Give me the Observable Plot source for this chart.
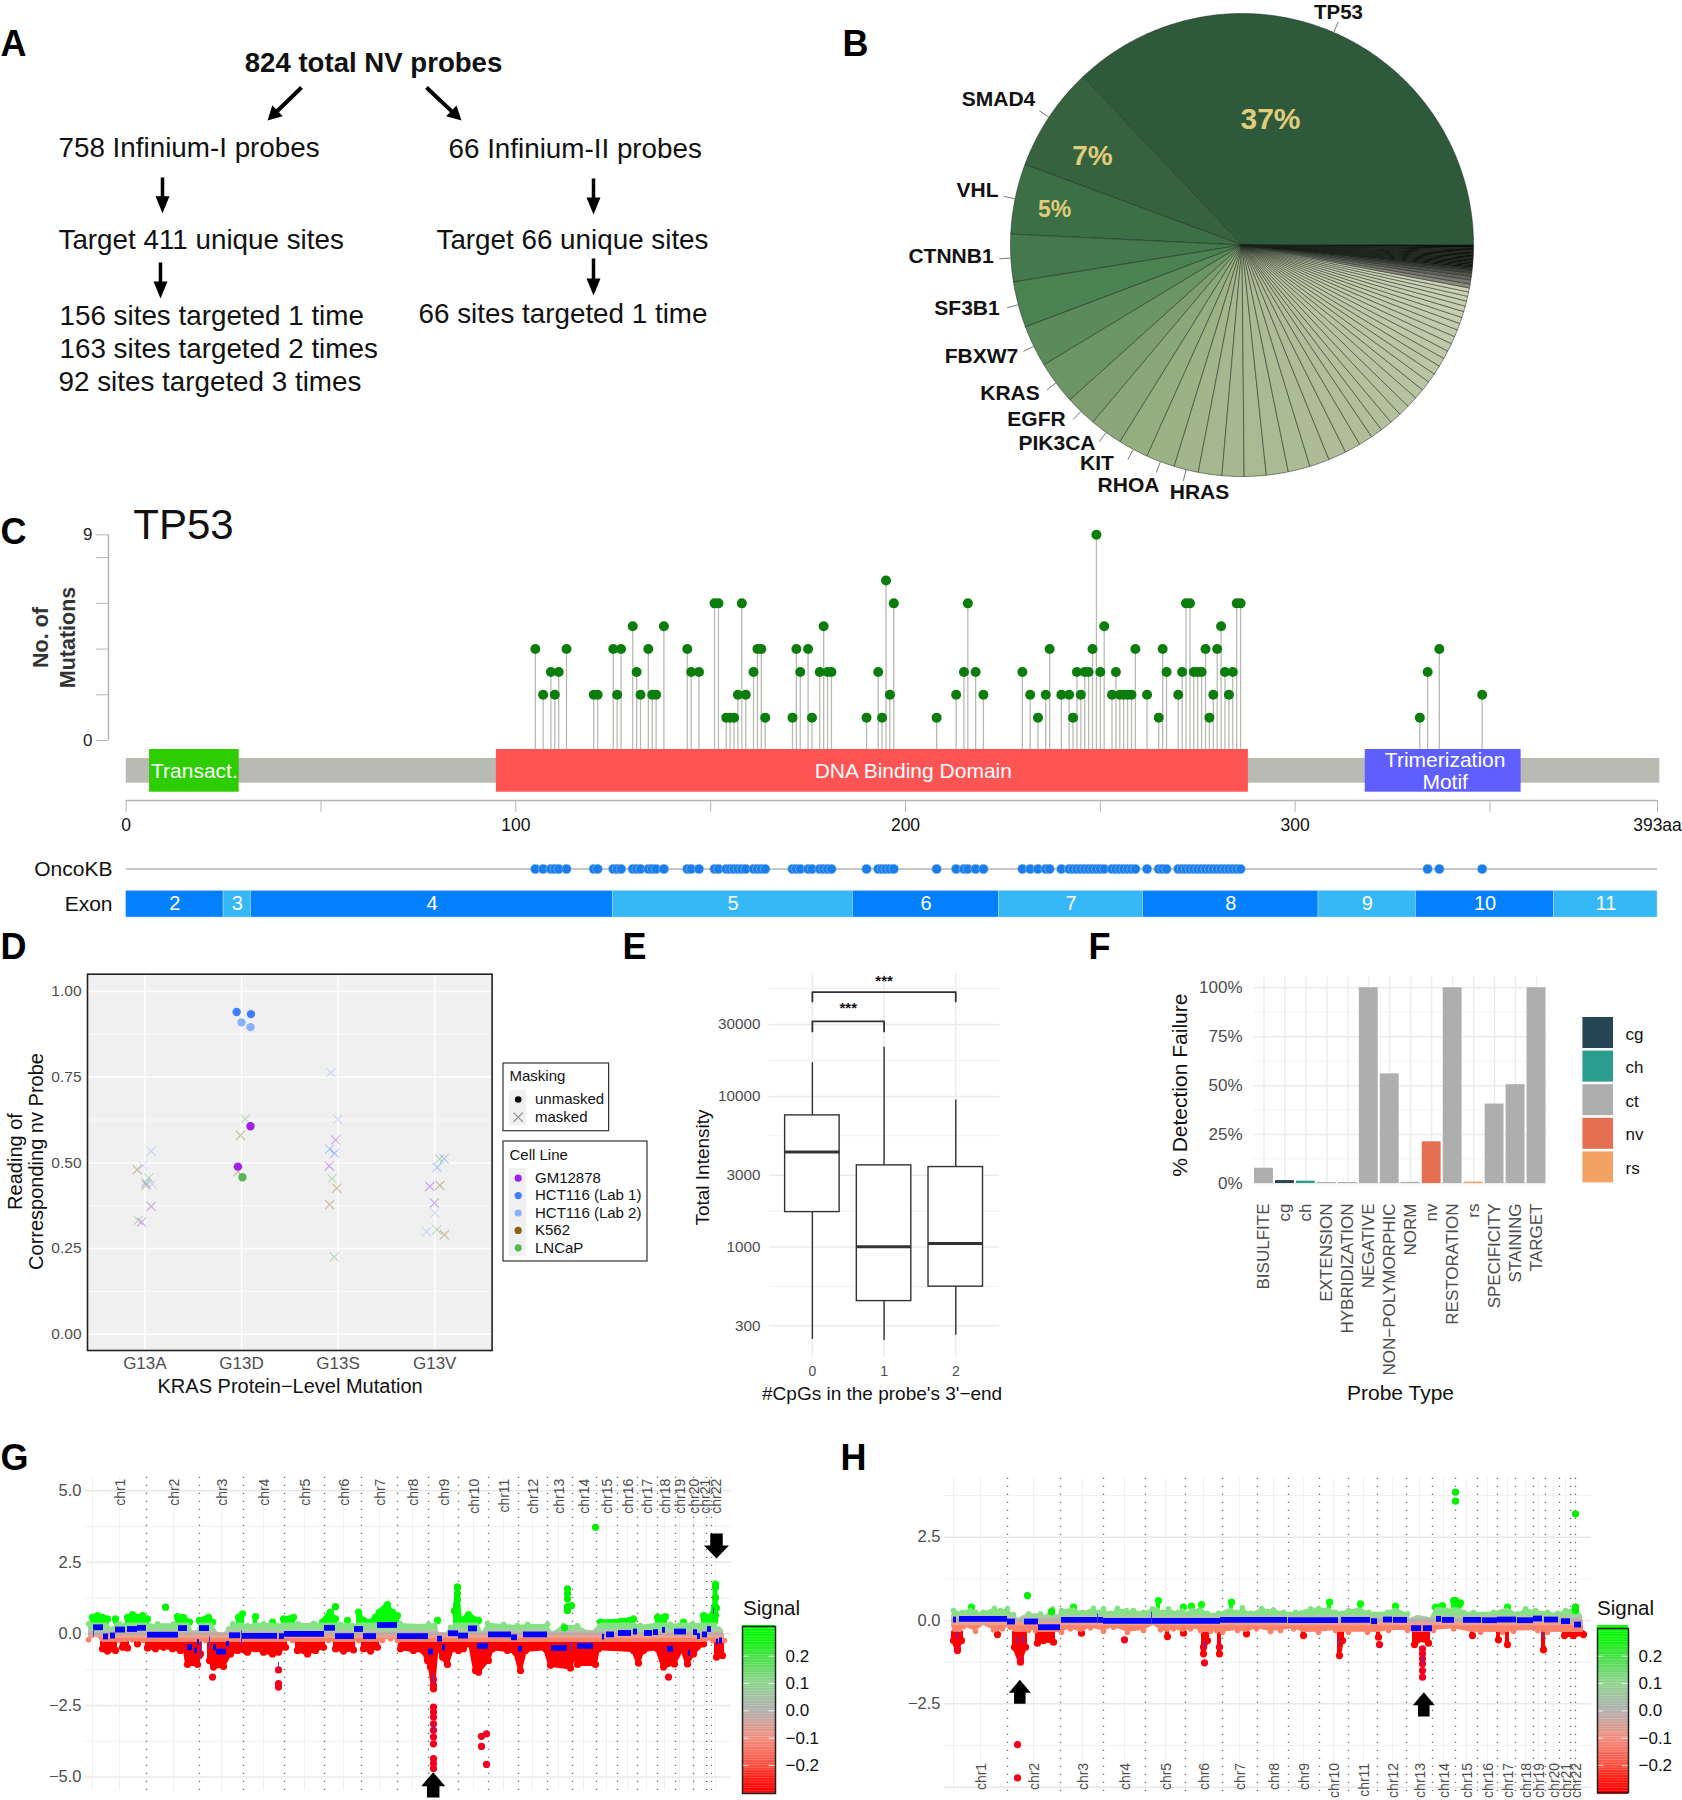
<!DOCTYPE html>
<html><head><meta charset="utf-8">
<script src="https://cdn.jsdelivr.net/npm/d3@7"></script>
<script src="https://cdn.jsdelivr.net/npm/@observablehq/plot@0.6"></script>
<style>
html,body{margin:0;padding:0;background:#fff}
#root{position:relative;width:1682px;height:1800px;overflow:hidden;font-family:"Liberation Sans",Arial,sans-serif}
svg{overflow:visible}
</style></head><body><div id="root"></div>
<script>
// ---------- Panel B data
const pieGenes=["TP53","SMAD4","VHL","CTNNB1","SF3B1","FBXW7","KRAS","EGFR","PIK3CA","KIT","RHOA","HRAS"];
const pieShares=[37,7.3,4.9,3.3,3.2,2.9,3,2.2,2.3,2.1,2,1.7];
const pieOtherShares=[1.64,1.53,1.53,1.53,1.53,1.39,1.25,1.11,.97,.83,.83,.83,.78,.78,.72,.69,.67,.64,.61,.58,.56,.53,.5,.47,.44,.42,.39,.36,.33,.31,.28];
const pieGreyShares=[.28,.28,.25,.22,.2,.17];
const pieBlackShares=[.1,.1,.1,.1,.1,.1,.1,.1,.1,.1,.1,.1,.1,.1,.17];
const pieColors=["#2e5a3b","#36623f","#3d6f46","#45784c","#4b8252","#5b8b5a","#6c9566","#7e9e6f","#8aa779","#94ae80","#9cb285","#a3b58b"];
// ---------- Panel C data: residue positions by number of mutations
const mut1=[154,155,156,164,171,176,190,194,208,234,243,265,278,332];
const mut2=[107,110,120,121,126,132,135,136,157,159,196,213,220,232,236,240,242,245,253,255,256,257,258,262,270,279,283,348];
const mut3=[109,111,131,145,147,161,173,178,180,181,193,215,218,230,244,246,247,250,254,267,271,274,275,276,282,284,334];
const mut4=[105,113,125,127,134,144,162,163,172,175,237,248,259,266,277,280,337];
const mut5=[130,138,179,251,281];
const mut6=[151,152,158,197,216,272,273,285,286];
const mut7=[195];
const mut9=[249];
const proteinDomains=[{name:"Transact.",a:6,b:29,at:17.5,c:"#2dcd00"},{name:"DNA Binding Domain",a:95,b:288,at:202,c:"#ff5454"},{name:"Trimerization\nMotif",a:318,b:358,at:338.5,c:"#5f5fff"}];
const exonNames=["2","3","4","5","6","7","8","9","10","11"];
const exonEnds=[25,32,125,186.5,224,261,306,331,366.5,393];
// ---------- Panel D data
const kras=["G13A","G13D","G13S","G13V"];
const cellLines=["GM12878","HCT116 (Lab 1)","HCT116 (Lab 2)","K562","LNCaP"];
const cellColors=["#a020f0","#3f7fff","#8ab0ff","#8b6010","#58b858"];
const maskedReadings=[
[-.08,.48,"K562"],[-.02,.492,"HCT116 (Lab 2)"],[.04,.456,"LNCaP"],[.01,.442,"HCT116 (Lab 1)"],[.013,.435,"K562"],[.074,.438,"HCT116 (Lab 2)"],[.065,.534,"HCT116 (Lab 2)"],[.065,.373,"GM12878"],[-.07,.332,"LNCaP"],[-.035,.327,"GM12878"],
[1.04,.628,"LNCaP"],[.989,.58,"K562"],[.963,.474,"K562"],
[1.925,.763,"HCT116 (Lab 2)"],[1.995,.627,"HCT116 (Lab 2)"],[1.973,.567,"GM12878"],[1.912,.54,"HCT116 (Lab 1)"],[1.964,.528,"HCT116 (Lab 1)"],[1.908,.491,"GM12878"],[1.938,.454,"LNCaP"],[1.986,.426,"K562"],[1.912,.378,"K562"],[1.96,.225,"LNCaP"],
[3.05,.511,"LNCaP"],[3.097,.512,"HCT116 (Lab 1)"],[3.027,.487,"HCT116 (Lab 1)"],[2.949,.431,"GM12878"],[3.053,.434,"K562"],[2.997,.383,"GM12878"],[3,.353,"HCT116 (Lab 2)"],[3.023,.305,"LNCaP"],[2.914,.299,"HCT116 (Lab 2)"],[3.1,.29,"K562"]];
const unmaskedReadings=[[.95,.94,"HCT116 (Lab 1)"],[1.098,.934,"HCT116 (Lab 1)"],[1,.91,"HCT116 (Lab 2)"],[1.093,.896,"HCT116 (Lab 2)"],[1.093,.607,"GM12878"],[.963,.489,"GM12878"],[1.01,.458,"LNCaP"]];
// ---------- Panel E data
const cpgBoxes=[{i:0,lo:244,q1:1707,med:4270,q3:7480,hi:16750},{i:1,lo:240,q1:438,med:1005,q3:3485,hi:21200},{i:2,lo:260,q1:546,med:1058,q3:3397,hi:9450}];
const intensityMajor=[300,1000,3000,10000,30000];
const intensityMinor=[547,1732,5477,17320,52000];
// ---------- Panel F data
const probeTypes=["BISULFITE","cg","ch","EXTENSION","HYBRIDIZATION","NEGATIVE","NON−POLYMORPHIC","NORM","nv","RESTORATION","rs","SPECIFICITY","STAINING","TARGET"];
const failurePct=[7.8,1.5,1.2,.5,.5,100,56,.6,21.3,100,.7,40.6,50.5,100];
const failureClass=["ct","cg","ch","ct","ct","ct","ct","ct","nv","ct","rs","ct","ct","ct"];
const classNames=["cg","ch","ct","nv","rs"];
const classColors=["#264653","#2a9d8f","#aeaeae","#e76f51","#f4a261"];
// ---------- Panels G, H data (genome bins, log2 ratio)
const chroms=d3.range(1,23).map(i=>"chr"+i);
const gBounds=[54,107,151,192,232,269,305,336,366,396,426,455,480,504,525,545,565,583,601,614,619];
const gMids=[27,81,129,171,212,251,287,320,351,381,411,440,466,491,514,535,554,572,587,601,612,623];
const gUp=[[-4,.35],[0,.58],[5,.64],[10,.58],[15,.52],[20,.17],[23,.52],[27,.35],[32,.29],[35,.58],[40,.67],[45,.58],[50,.64],[55,.52],[57,.29],[65,.35],[81,.35],[85,.6],[91,.58],[97,.41],[100,.12],[105,.12],[107,.47],[116,.58],[120,.41],[125,.06],[131,.02],[136,.17],[140,.35],[146,.58],[150,.7],[155,.29],[163,.6],[171,.35],[180,.41],[185,.29],[191,.52],[201,.58],[206,.35],[221,.37],[230,.41],[238,.76],[243,.52],[248,.33],[255,.47],[260,.29],[266,.76],[271,.47],[278,.41],[283,.58],[287,.76],[295,1.02],[300,.76],[305,.64],[308,.35],[336,.33],[345,.47],[346,.06],[353,.02],[358,.23],[363,.81],[365,1.63],[368,.41],[376,.67],[386,.47],[390,.06],[395,.37],[411,.33],[425,.29],[435,.33],[455,.33],[460,.06],[471,.29],[485,.29],[495,.12],[501,.12],[508,.41],[528,.44],[541,.52],[548,.29],[565,.58],[573,.6],[578,.33],[591,.41],[600,.35],[611,.64],[618,.58],[622,.9],[623,1.74],[624,.9],[626,.17],[631,.15]];
const gLow=[[-4,-.21],[5,-.12],[10,-.52],[15,-.6],[23,-.58],[26,-.23],[30,-.47],[35,-.49],[40,-.21],[45,-.35],[51,-.23],[55,-.49],[63,-.52],[71,-.47],[80,-.52],[88,-.58],[92,-.35],[95,-1.07],[105,-1.07],[108,-.7],[113,-.23],[117,-.93],[121,-1.16],[131,-1.14],[138,-.7],[145,-.58],[155,-.64],[163,-.52],[171,-.64],[180,-.7],[186,-.64],[193,-.47],[200,-.23],[205,-.58],[215,-.7],[223,-.58],[231,-.47],[236,-.23],[243,-.52],[251,-.6],[261,-.56],[266,-.23],[271,-.52],[278,-.6],[285,-.47],[290,-.23],[298,-.17],[305,-.23],[308,-.52],[321,-.58],[331,-.6],[335,-.93],[338,-1.16],[341,-1.92],[345,-.35],[350,-.81],[355,-1.07],[360,-.52],[366,-.58],[371,-.52],[378,-.35],[383,-1.28],[386,-1.34],[396,-.93],[400,-.52],[415,-.58],[423,-.64],[428,-1.28],[433,-.58],[453,-.52],[458,-1.1],[478,-1.19],[483,-.7],[485,-1.07],[503,-1.07],[506,-.52],[541,-.58],[546,-1.02],[551,-.58],[565,-.52],[571,-1.16],[582,-1.05],[590,-.52],[595,-1.05],[601,-.7],[611,-.35],[620,-.23],[624,-.81],[630,-.76],[632,-.23]];
const gGreenDots=[[73,.93],[243,.95],[503,3.72],[475,1.57],[475,1.4],[475,1.22],[475,.95],[475,.81],[479,.99],[472,.21],[365,1.63],[365,1.4],[365,1.2],[364,1],[362,.8],[623,1.62],[623,1.27],[623,.93],[623,.65]];
const gRedDots=[[120,-1.51],[186,-1.26],[186,-1.74],[186,-1.86],[341,-2.56],[341,-2.73],[341,-2.9],[341,-3.14],[341,-3.37],[341,-3.6],[341,-3.84],[341,-4.36],[341,-4.53],[341,-4.7],[389,-3.58],[394,-3.49],[389,-3.93],[394,-4.56],[576,-1.51],[341,-1.6],[341,-1.8]];
const gSegments=[[1,11,.23],[11,16,-.09],[18,23,-.06],[23,33,.15],[35,45,.17],[45,54,.21],[55,86,-.03],[86,95,.2],[95,100,-.47],[102,105,-.58],[105,107,-.29],[107,117,.2],[121,124,-.47],[124,134,-.62],[134,137,-.35],[137,148,-.05],[150,185,-.07],[187,192,-.08],[192,232,0],[232,243,.21],[243,262,-.08],[262,271,.17],[271,284,-.08],[285,305,.31],[305,336,-.08],[336,341,-.62],[345,350,-.17],[350,353,-.47],[356,366,.02],[366,376,-.06],[376,385,.19],[385,396,-.42],[396,419,-.02],[419,425,-.12],[426,430,-.52],[431,455,-.02],[459,475,-.49],[485,501,-.42],[510,512,-.1],[514,522,-.02],[526,539,.03],[541,545,.08],[552,560,.03],[561,566,.06],[570,573,.14],[575,581,-.52],[582,594,.08],[596,598,-.66],[601,605,.06],[605,608,-.08],[610,615,-.02],[615,619,.17],[624,626,-.27],[627,630,-.23]];
const gBlueTicks=[[1,.15,-.1],[117,-.1,-.5],[186,-1,-1.2],[341,-1.4,-1.7],[341,-3.2,-3.4],[621,.9,.7],[149,.1,-.4],[109,-.3,-.9],[478,-.3,-.6]];
const hBounds=[54,107,150,192,232,269,304,335,366,395,424,453,479,502,524,544,562,580,592,606,617,622];
const hMids=[27,80,129,171,212,250,286,320,350,380,410,439,466,490,513,534,554,572,585,600,612,622];
const hUp=[[-2,.15],[0,.3],[9,.25],[18,.4],[22,.25],[30,.25],[41,.37],[47,.3],[54,.35],[60,.18],[65,.05],[70,.15],[75,.2],[87,.2],[92,.15],[99,.35],[104,.15],[108,.3],[120,.4],[129,.25],[140,.37],[145,.25],[150,.35],[157,.22],[164,.37],[173,.3],[180,.3],[190,.25],[199,.35],[205,.6],[209,.25],[215,.35],[224,.25],[230,.4],[234,.2],[238,.43],[245,.3],[248,.48],[254,.22],[265,.22],[278,.55],[284,.25],[289,.38],[297,.22],[308,.35],[320,.32],[330,.25],[342,.25],[357,.35],[365,.35],[376,.55],[382,.25],[395,.3],[407,.5],[415,.25],[434,.25],[442,.43],[454,.2],[457,.05],[464,.15],[477,.08],[482,.4],[489,.45],[494,.3],[500,.6],[507,.53],[510,.25],[520,.25],[540,.25],[554,.4],[564,.2],[572,.35],[582,.3],[594,.25],[604,.22],[612,.3],[622,.4],[629,.15]];
const hLow=[[-2,-.15],[0,-.6],[4,-.9],[8,-.6],[10,-.18],[22,-.32],[30,-.15],[40,-.28],[44,-.42],[49,-.25],[57,-.2],[61,-.8],[67,-1.25],[72,-.8],[75,-.3],[82,-.3],[84,-.68],[90,-.6],[100,-.65],[108,-.35],[117,-.25],[128,-.38],[137,-.22],[150,-.32],[160,-.2],[174,-.35],[190,-.3],[200,-.15],[207,-.28],[214,-.48],[220,-.25],[230,-.38],[237,-.25],[247,-.3],[250,-1],[254,-.6],[257,-.32],[263,-.3],[266,-1],[269,-.35],[284,-.3],[293,-.4],[303,-.25],[317,-.33],[327,-.3],[340,-.25],[350,-.45],[365,-.35],[382,-.3],[386,-1.05],[389,-.6],[395,-.35],[414,-.35],[425,-.5],[435,-.3],[454,-.3],[461,-.72],[470,-.55],[475,-.68],[480,-.3],[500,-.25],[519,-.45],[527,-.35],[545,-.58],[549,-.35],[554,-.72],[560,-.32],[584,-.3],[590,-.88],[594,-.35],[611,-.45],[620,-.45],[630,-.42]];
const hGreenDots=[[74,.75],[98,.27],[502,3.85],[502,3.58],[622,3.2],[502,.6],[506,.5],[622,.4],[622,.3]];
const hRedDots=[[67,-1.15],[64,-3.72],[64,-4.72],[171,-.58],[251,-1.27],[426,-.72],[469,-.85],[469,-1],[469,-1.15],[469,-1.3],[469,-1.5],[469,-1.7],[250,-.8],[266,-.8],[4,-.85]];
const hSegments=[[0,3,.03],[6,54,.05],[54,62,-.03],[71,85,-.03],[85,107,-.2],[108,150,.02],[150,232,-.01],[232,267,-.01],[267,334,.02],[335,385,.01],[388,417,.02],[418,424,-.02],[430,439,.03],[440,454,.02],[458,468,-.23],[470,479,-.23],[483,488,.05],[489,501,.02],[510,528,.02],[529,544,.01],[544,563,.03],[564,580,.01],[580,589,.06],[591,605,.03],[608,617,-.02],[621,628,-.12]];
const hBlueTicks=[[4,-.35,-.55],[64,-.5,-.7],[69,-.45,-.7],[144,.2,-.1],[198,.25,-.1],[251,-.6,-.8],[386,-.55,-.75],[469,-1.1,-1.3],[590,-.35,-.55]];

// ---------- helpers
const FONT='"Liberation Sans",Arial,sans-serif';
const root=document.getElementById("root");
const base={style:{fontFamily:FONT,background:"transparent",overflow:"visible"}};
function place(opts,left,top){const p=Plot.plot({...base,...opts});p.style.position="absolute";p.style.left=left+"px";p.style.top=top+"px";root.append(p);return p;}
const GREY="#4d4d4d";

// ---------- Panel B: pie
(function(){
  const shares=[...pieShares,...pieOtherShares,...pieGreyShares,...pieBlackShares];
  const nO=pieOtherShares.length,nG=pieGreyShares.length;
  const mixO=d3.interpolateRgb("#a6b78f","#cdd2b6"),mixG=d3.interpolateRgb("#8a8a80","#2e2e2e");
  const color=i=>i<12?pieColors[i]:i<12+nO?mixO((i-12)/(nO-1)):i<12+nO+nG?mixG((i-12-nO)/(nG-1)):"#0c0c0c";
  const total=d3.sum(shares);let a=0;const poly=[],mids=[];
  shares.forEach((s,i)=>{const a0=a,a1=a+s/total*2*Math.PI;a=a1;
    poly.push({slice:i,x:0,y:0,c:color(i)});
    const n=Math.max(2,Math.ceil((a1-a0)/.01));
    for(let k=0;k<=n;k++){const t=a0+(a1-a0)*k/n;poly.push({slice:i,x:Math.cos(t),y:Math.sin(t),c:color(i)});}
    poly.push({slice:i,x:0,y:0,c:color(i)});
    if(i<12)mids.push((a0+a1)/2);});
  place({width:463,height:463,margin:0,x:{domain:[-1,1],axis:null},y:{domain:[-1,1],axis:null},color:{type:"identity"},marks:[
    Plot.line(poly,{x:"x",y:"y",z:"slice",fill:"c",stroke:"#1c261c",strokeWidth:.6,strokeOpacity:.85}),
    Plot.link(mids,{x1:t=>Math.cos(t)*1.0,y1:t=>Math.sin(t)*1.0,x2:t=>Math.cos(t)*1.05,y2:t=>Math.sin(t)*1.05,stroke:"#777",strokeWidth:1})
  ]},1009.5,13);
})();

// ---------- Panel C: lollipops
const mutations=[[1,mut1],[2,mut2],[3,mut3],[4,mut4],[5,mut5],[6,mut6],[7,mut7],[9,mut9]].flatMap(([n,l])=>l.map(aa=>({aa,n})));
const cY=px=>(740-px)/22.856;
place({width:1682,height:320,marginLeft:125.7,marginRight:25,marginTop:14.3,marginBottom:40,
  x:{domain:[0,393]},y:{domain:[-2.625,9]},marks:[
  Plot.rect([0],{x1:0,x2:393.6,y1:cY(758),y2:cY(782.7),fill:"#b9bbb3"}),
  Plot.ruleX(mutations,{x:"aa",y1:cY(749),y2:"n",stroke:"#b9bbb3",strokeWidth:1.3}),
  Plot.rect(proteinDomains,{x1:"a",x2:"b",y1:cY(749),y2:cY(791.7),fill:"c"}),
  Plot.text(proteinDomains,{x:"at",y:cY(770.5),text:"name",fill:"white",fontSize:21,lineHeight:1.04}),
  Plot.dot(mutations,{x:"aa",y:"n",r:5,fill:"#0b7d0b"}),
  Plot.ruleX([0],{y1:0,y2:9,dx:-17.7,stroke:"#b5b5b5",strokeWidth:1.5}),
  Plot.axisY({ticks:[0,2,4,6,8,9],tickFormat:d=>d===0||d===9?d:"",tickSize:12,tickPadding:4,dx:-17.7,stroke:"#b5b5b5",fill:"#222",fontSize:17,label:null}),
  Plot.ruleY([-2.625],{x1:0,x2:393,stroke:"#b5b5b5",strokeWidth:1.5}),
  Plot.axisX({ticks:[0,50,100,150,200,250,300,350,393],tickFormat:d=>d===393?"393aa":d%100===0?d:"",tickSize:12,tickPadding:6,stroke:"#b5b5b5",fill:"#111",fontSize:17.5,label:null})
]},0,520);
const exons=exonNames.map((name,i)=>({name,a:i?exonEnds[i-1]:0,b:exonEnds[i],c:i===1||i===3||i===5||i===7||i===9?"#35b8f5":"#0380ff"}));
const oncoKB=[...new Set(mutations.map(d=>d.aa))].filter(a=>a!==332).sort((a,b)=>a-b);
place({width:1682,height:70,marginLeft:125.7,marginRight:25,marginTop:0,marginBottom:0,
  x:{domain:[0,393],axis:null},y:{type:"band",domain:["OncoKB","Exon"],padding:0,round:false},marks:[
  Plot.ruleY(["OncoKB"],{x1:0,x2:393,stroke:"#b5b5b5",strokeWidth:1.5,y:d=>d}),
  Plot.dot(oncoKB,{x:d=>d,y:()=>"OncoKB",r:4.8,fill:"#1a7de8",stroke:"#9cc4f2",strokeWidth:.5}),
  Plot.barX(exons,{x1:"a",x2:"b",y:()=>"Exon",fill:"c",insetTop:4.4,insetBottom:4,stroke:"#b7d8f5",strokeWidth:.5}),
  Plot.text(exons,{x:d=>(d.a+d.b)/2,y:()=>"Exon",text:"name",fill:"white",fontSize:20}),
  Plot.axisY({tickSize:0,tickPadding:13.7,fontSize:21,fill:"#111",label:null,stroke:"#111",strokeWidth:.5})
]},0,850.6);

// ---------- Panel D
place({width:500,height:430,marginLeft:87,marginRight:8.4,marginTop:13.7,marginBottom:40,
  x:{domain:[-.594,3.594]},y:{domain:[-.0476,1.0505]},
  color:{domain:cellLines,range:cellColors},marks:[
  Plot.frame({fill:"#f0f0f0"}),
  Plot.ruleY([.125,.375,.625,.875],{stroke:"white",strokeWidth:.7}),
  Plot.ruleY([0,.25,.5,.75,1],{stroke:"white",strokeWidth:1.4}),
  Plot.ruleX([0,1,2,3],{stroke:"white",strokeWidth:1.4}),
  Plot.dot(maskedReadings,{x:d=>d[0],y:d=>d[1],stroke:d=>d[2],symbol:"times",r:4.2,strokeOpacity:.36,strokeWidth:1.2}),
  Plot.dot(unmaskedReadings,{x:d=>d[0],y:d=>d[1],fill:d=>d[2],r:4.2}),
  Plot.frame({stroke:"#222",strokeWidth:1.6}),
  Plot.axisY({ticks:[0,.25,.5,.75,1],tickFormat:".2f",tickSize:0,tickPadding:6,fontSize:15.5,fill:GREY,label:null}),
  Plot.axisX({ticks:[0,1,2,3],tickFormat:i=>kras[i],tickSize:0,tickPadding:6,fontSize:17,fill:GREY,label:null})
]},0,960);

// ---------- Panel E
const bracketPts=[
  {g:1,x:0,y:42700},{g:1,x:0,y:49200},{g:1,x:2,y:49200},{g:1,x:2,y:42700},
  {g:2,x:0,y:27000},{g:2,x:0,y:31500},{g:2,x:1,y:31500},{g:2,x:1,y:27000}];
place({width:320,height:420,marginLeft:79,marginRight:11,marginTop:13,marginBottom:23,
  x:{domain:[-.598,2.61]},y:{type:"log",domain:[185,65400]},marks:[
  Plot.ruleY(intensityMinor,{stroke:"#eeeeee",strokeWidth:.8}),
  Plot.ruleY(intensityMajor,{stroke:"#ebebeb",strokeWidth:1.5}),
  Plot.ruleX([0,1,2],{stroke:"#ebebeb",strokeWidth:1.5}),
  Plot.ruleX(cpgBoxes,{x:"i",y1:"lo",y2:"hi",stroke:"#333",strokeWidth:1.4}),
  Plot.rect(cpgBoxes,{x1:d=>d.i-.38,x2:d=>d.i+.38,y1:"q1",y2:"q3",fill:"white",stroke:"#333",strokeWidth:1.4}),
  Plot.ruleY(cpgBoxes,{x1:d=>d.i-.38,x2:d=>d.i+.38,y:"med",stroke:"#333",strokeWidth:3}),
  Plot.line(bracketPts,{x:"x",y:"y",z:"g",stroke:"#333",strokeWidth:1.8}),
  Plot.text([{x:1,y:58000},{x:.5,y:38500}],{x:"x",y:"y",text:()=>"***",fontSize:15,fontWeight:"bold",fill:"#111"}),
  Plot.axisY({ticks:intensityMajor,tickFormat:"d",tickSize:0,tickPadding:9,fontSize:15.3,fill:GREY,label:null}),
  Plot.axisX({ticks:[0,1,2],tickFormat:"d",tickSize:0,tickPadding:9,fontSize:14,fill:GREY,label:null})
]},690,960);

// ---------- Panel F
const failures=probeTypes.map((t,i)=>({t,p:failurePct[i],k:failureClass[i]}));
place({width:400,height:400,marginLeft:83,marginRight:23.5,marginTop:16.7,marginBottom:177,
  x:{type:"band",domain:probeTypes,paddingInner:.1,paddingOuter:.05,round:false},y:{domain:[0,105.4]},
  color:{domain:classNames,range:classColors},marks:[
  Plot.ruleY([12.5,37.5,62.5,87.5],{stroke:"#f0f0f0",strokeWidth:.8}),
  Plot.ruleY([0,25,50,75,100],{stroke:"#ebebeb",strokeWidth:1.5}),
  Plot.ruleX(probeTypes,{x:d=>d,stroke:"#ebebeb",strokeWidth:1.3}),
  Plot.barY(failures,{x:"t",y:"p",fill:"k"}),
  Plot.axisY({ticks:[0,25,50,75,100],tickFormat:d=>d+"%",tickSize:0,tickPadding:11,fontSize:17,fill:GREY,label:null}),
  Plot.axisX({tickRotate:-90,tickSize:0,tickPadding:20,fontSize:17,fill:GREY,label:null})
]},1170,960);

// ---------- Panels G & H
function bands(env,sign,T,bright,c1,c2,c3){
  const d=env.map(([b,v])=>({b,a:Math.abs(v)}));
  const S=sign, M=.16, L=.06;
  return [
    Plot.area(d,{x1:"b",y1:x=>x.a>T?S*T:NaN,y2:x=>x.a>T?S*x.a:NaN,fill:bright,stroke:bright,strokeWidth:4,strokeLinejoin:"round"}),
    Plot.dot(d.filter(x=>x.a>T),{x:"b",y:x=>S*x.a,r:3.6,fill:bright}),
    Plot.dot(d.filter(x=>x.a<=T&&x.a>M),{x:"b",y:x=>S*x.a,r:2.8,fill:c1}),
    Plot.area(d,{x1:"b",y1:0,y2:x=>S*Math.min(x.a,T),fill:c1}),
    Plot.area(d,{x1:"b",y1:0,y2:x=>S*Math.min(x.a,M),fill:c2}),
    Plot.area(d,{x1:"b",y1:0,y2:x=>S*Math.min(x.a,L),fill:c3})
  ];
}
function genome(cfg){
  return place({width:cfg.width,height:cfg.height,marginLeft:cfg.ml,marginRight:cfg.mr,marginTop:cfg.mt,marginBottom:cfg.mb,
   x:{domain:cfg.xd,axis:null},y:{domain:cfg.yd},marks:[
   Plot.ruleY(cfg.minor,{stroke:"#eeeeee",strokeWidth:.9}),
   Plot.ruleY(cfg.major,{stroke:"#e8e8e8",strokeWidth:1.5}),
   Plot.ruleX([0,...cfg.mids],{stroke:"#eeeeee",strokeWidth:.9}),
   Plot.ruleX(cfg.bounds,{stroke:"#666",strokeWidth:1.3,strokeDasharray:"1.3 6.7"}),
   ...bands(cfg.up,1,.38,"#00ff00","#84e284","#aecaa4","#b4b4ac"),
   ...bands(cfg.low,-1,cfg.lowT,"#ff0000","#fb8268","#eda08e","#b8aca8"),
   Plot.dot(cfg.green,{x:d=>d[0],y:d=>d[1],r:3.6,fill:"#00f000"}),
   Plot.dot(cfg.red,{x:d=>d[0],y:d=>d[1],r:3.6,fill:"#f5001c"}),
   Plot.ruleY(cfg.segs,{x1:d=>d[0],x2:d=>d[1],y:d=>d[2],stroke:"#0000ff",strokeWidth:5.8}),
   Plot.ruleX(cfg.ticks,{x:d=>d[0],y1:d=>d[1],y2:d=>d[2],stroke:"#3a3aff",strokeWidth:1}),
   Plot.text(chroms,{x:(d,i)=>cfg.mids[i]+1,y:()=>cfg.labelY,text:d=>d,rotate:-90,textAnchor:"end",fontSize:14,fill:GREY}),
   Plot.axisY({ticks:cfg.labels,tickFormat:".1f",tickSize:0,tickPadding:4,fontSize:16.5,fill:GREY,label:null})
  ]},cfg.left,cfg.top);
}
genome({left:0,top:1470,width:740,height:330,ml:85,mr:9.3,mt:6.7,mb:10,xd:[-7,638.7],yd:[-5.47,5.47],lowT:.3,
  minor:[-3.75,-1.25,1.25,3.75],major:[-5,-2.5,0,2.5,5],mids:gMids,bounds:gBounds,up:gUp,low:gLow,green:gGreenDots,red:gRedDots,segs:gSegments,ticks:gBlueTicks,labelY:5.42,labels:[-5,-2.5,0,2.5,5]});
genome({left:860,top:1470,width:740,height:332,ml:84,mr:9,mt:7.7,mb:10.3,xd:[-9,638],yd:[-5.15,4.27],lowT:.36,
  minor:[-3.75,-1.25,1.25,3.75],major:[-5,-2.5,0,2.5],mids:hMids,bounds:hBounds,up:hUp,low:hLow,green:hGreenDots,red:hRedDots,segs:hSegments,ticks:hBlueTicks,labelY:-4.27,labels:[-2.5,0,2.5]});

// colour bars
const sigDomain=[-.3,-.25,-.2,-.1,0,.1,.2,.25,.3];
const sigRange=["#ff0000","#ff1a10","#ff5040","#f09080","#b0b0b0","#8ed48e","#40e040","#10f010","#00ff00"];
const ramp=d3.range(-.306,.312,.006);
function colorbar(left,top,w,h,ydom){
  place({width:w+60,height:h,marginLeft:0,marginRight:60,marginTop:0,marginBottom:0,
   x:{domain:[0,1],axis:null},y:{domain:ydom},color:{type:"linear",domain:sigDomain,range:sigRange,clamp:true},marks:[
   Plot.rect(ramp,{x1:0,x2:1,y1:d=>d,y2:d=>d+.0065,fill:d=>d}),
   Plot.ruleY([-.2,-.1,0,.1,.2],{x1:0,x2:.2,stroke:"white",strokeOpacity:.8}),
   Plot.ruleY([-.2,-.1,0,.1,.2],{x1:.8,x2:1,stroke:"white",strokeOpacity:.8}),
   Plot.frame({stroke:"#222",strokeWidth:1.5}),
   Plot.axisY({anchor:"right",ticks:[-.2,-.1,0,.1,.2],tickFormat:".1f",tickSize:0,tickPadding:10,fontSize:17,fill:"#111",label:null})
  ]},left,top);
}
colorbar(742.3,1626,33,167,[-.3026,.3088]);
colorbar(1596.7,1628,31,164,[-.2985,.3015]);

// ---------- overlay: panel letters, flow chart, titles, legends
function arrow(x1,y1,x2,y2,s,h,l){
  const L=Math.hypot(x2-x1,y2-y1),ux=(x2-x1)/L,uy=(y2-y1)/L,px=-uy,py=ux,bx=x2-ux*l,by=y2-uy*l;
  return [[x1+px*s/2,y1+py*s/2],[bx+px*s/2,by+py*s/2],[bx+px*h/2,by+py*h/2],[x2,y2],[bx-px*h/2,by-py*h/2],[bx-px*s/2,by-py*s/2],[x1-px*s/2,y1-py*s/2]];
}
const arrowList=[
 arrow(301,87,267,120,4,15,14),arrow(426,87,461,120,4,15,14),
 arrow(162,177,162,212.7,3.5,14,17),arrow(593,178,593,214,3.5,14,17),arrow(160,262,160,298,3.5,14,17),arrow(593,258,593,295,3.5,14,17),
 arrow(432.7,1797,432.7,1771.7,12.5,24,14),arrow(716,1533,716,1558,12.5,25,13),
 arrow(1019.3,1703.3,1019.3,1679.3,11.5,22,13),arrow(1423.3,1716,1423.3,1691.7,11.5,22,13)];
const letters=[["A",13,44],["B",855,44],["C",13,532],["D",13,947],["E",634,947],["F",1099,947],["G",14,1458],["H",853,1458]];
const T=(t,x,y,size,o={})=>({t,x,y,size,...o});
const PL={w:"bold"};
const texts=[
 T("824 total NV probes",373,63,27.6,{w:"bold"}),
 T("758 Infinium-I probes",58,148,27.8,{a:"start"}),T("66 Infinium-II probes",448,149,27.8,{a:"start"}),
 T("Target 411 unique sites",58,240,27.8,{a:"start"}),T("Target 66 unique sites",436,240,27.8,{a:"start"}),
 T("156 sites targeted 1 time",59,316,27.8,{a:"start"}),T("163 sites targeted 2 times",59,349,27.8,{a:"start"}),T("92 sites targeted 3 times",58,382,27.8,{a:"start"}),T("66 sites targeted 1 time",418,314,27.8,{a:"start"}),
 T("TP53",1338,12,20.5,PL),T("SMAD4",998,99,21,PL),T("VHL",977,190,21,PL),T("CTNNB1",950.5,256,21,PL),T("SF3B1",966.5,308,21,PL),T("FBXW7",981,356,21,PL),T("KRAS",1009.5,393,21,PL),T("EGFR",1036,419,21,PL),T("PIK3CA",1056.5,443,21,PL),T("KIT",1096.5,463,21,PL),T("RHOA",1128,485,21,PL),T("HRAS",1199,492,21,PL),
 T("37%",1270,119,30,{w:"bold",c:"#e0cc7a"}),T("7%",1092,156,28,{w:"bold",c:"#e0cc7a"}),T("5%",1054,209,23,{w:"bold",c:"#e0cc7a"}),
 T("TP53",183,525,42),
 T("No. of",41,637,21.5,{w:"bold",r:-90,c:"#333"}),T("Mutations",68,637,21.5,{w:"bold",r:-90,c:"#333"}),
 T("Reading of",15,1161,20,{r:-90}),T("Corresponding nv Probe",36,1161,20,{r:-90}),T("KRAS Protein−Level Mutation",289.6,1386,20),
 T("Masking",509,1076,15,{a:"start"}),T("unmasked",534.5,1099,15,{a:"start"}),T("masked",534.5,1116.7,15,{a:"start"}),
 T("Cell Line",509,1155,15,{a:"start"}),
 ...cellLines.map((c,i)=>T(c,534.5,1177.7+i*17.4,15,{a:"start"})),
 T("Total Intensity",702,1167,19,{r:-90}),T("#CpGs in the probe's 3'−end",881.6,1393,19),
 T("% Detection Failure",1179.6,1084.7,21,{r:-90}),T("Probe Type",1400,1392.7,21),
 ...classNames.map((c,i)=>T(c,1625,1034+i*33.5,17,{a:"start"})),
 T("Signal",771,1608,20.5),T("Signal",1625,1608,20.5)
];
const swatches=classNames.map((c,i)=>({c:classColors[i],y1:1017+i*33.6,y2:1048+i*33.6}));
const cellRows=cellLines.map((c,i)=>({y:1177.7+i*17.4,c:cellColors[i]}));
place({width:1682,height:1800,margin:0,x:{domain:[0,1682],range:[0,1682],axis:null},y:{domain:[0,1800],range:[0,1800],axis:null},color:{type:"identity"},marks:[
  ...arrowList.map(a=>Plot.line(a,{x:d=>d[0],y:d=>d[1],fill:"black",stroke:"none"})),
  // legend boxes of D
  Plot.rect([[503,608.6,1063,1130.7],[503,647,1141,1261]],{x1:d=>d[0],x2:d=>d[1],y1:d=>d[2],y2:d=>d[3],fill:"white",stroke:"#333",strokeWidth:1.2}),
  Plot.rect([[509,526,1090,1125],[509,526,1168,1256]],{x1:d=>d[0],x2:d=>d[1],y1:d=>d[2],y2:d=>d[3],fill:"#f0f0f0"}),
  Plot.dot([1099],{x:517.7,y:d=>d,r:3.3,fill:"black"}),
  Plot.dot([1116.7],{x:517.7,y:d=>d,r:4.3,symbol:"times",stroke:"#888",strokeWidth:1.1}),
  Plot.dot(cellRows,{x:517.7,y:"y",r:3.6,fill:"c"}),
  // legend of F
  Plot.rect(swatches,{x1:1582.4,x2:1613,y1:"y1",y2:"y2",fill:"c"}),
  ...letters.map(l=>Plot.text([l],{x:d=>d[1],y:d=>d[2],text:d=>d[0],fontSize:36,fontWeight:"bold",fill:"black"})),
  ...texts.map(d=>Plot.text([d],{x:"x",y:"y",text:"t",fontSize:d.size,fontWeight:d.w||"normal",textAnchor:d.a||"middle",fill:d.c||"#111",rotate:d.r||0}))
]},0,0);
</script></body></html>
